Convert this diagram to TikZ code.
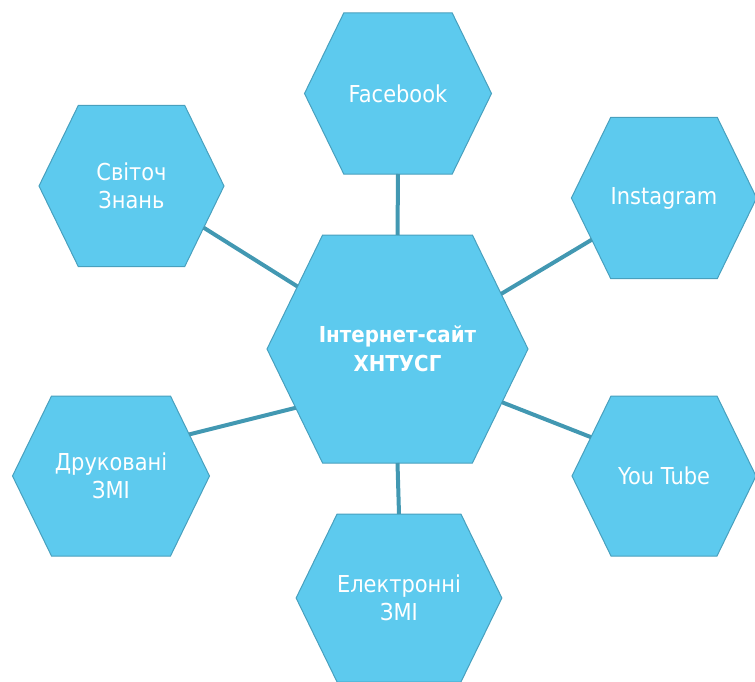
\documentclass[tikz,border=0pt]{standalone}
\usepackage{fontspec}
\setmainfont{DejaVu Sans}[FakeStretch=0.9]
\usetikzlibrary{shapes.symbols}
\definecolor{hexfill}{RGB}{93,202,238}
\definecolor{hexline}{RGB}{72,160,190}
\definecolor{linkline}{RGB}{66,152,178}

\begin{document}
\begin{tikzpicture}[x=1pt,y=-1pt,
    hexbox/.style={signal, signal to=east and west, signal pointer angle=128,
      fill=hexfill, draw=hexline, line width=1pt, text=white, align=center,
      inner sep=0pt, outer sep=0pt, font=\fontsize{23.3}{28}\selectfont},
    link/.style={draw=linkline, line width=4pt}]
        \useasboundingbox (0,0) rectangle (755,682);
        \node[hexbox, minimum width=261, minimum height=228, inner xsep=-20pt,
          font=\fontsize{22}{29}\selectfont\bfseries] (site) at (397.5,349) {Інтернет-сайт\\ХНТУСГ};
        \node[hexbox, minimum width=187, minimum height=161] (fb) at (398,93.5) {Facebook};
        \node[hexbox, minimum width=185, minimum height=161] (znan) at (131.5,186) {Світоч\\Знань};
        \node[hexbox, minimum width=184, minimum height=161] (insta) at (664,198) {Instagram};
        \node[hexbox, minimum width=184, minimum height=160] (yt) at (664,476) {You Tube};
        \node[hexbox, minimum width=197, minimum height=160] (druk) at (111,476) {Друковані\\ЗМІ};
        \node[hexbox, minimum width=204, minimum height=168] (elek) at (399,598) {Електронні\\ЗМІ};
        \draw[link] (site.north) -- (fb.south);
        \draw[link] (site.148) -- (znan.330);
        \draw[link] (site.28) -- (insta.210);
        \draw[link] (site.333) -- (yt.152);
        \draw[link] (site.210) -- (druk.28);
        \draw[link] (site.south) -- (elek.north);
    \end{tikzpicture}
\end{document}
